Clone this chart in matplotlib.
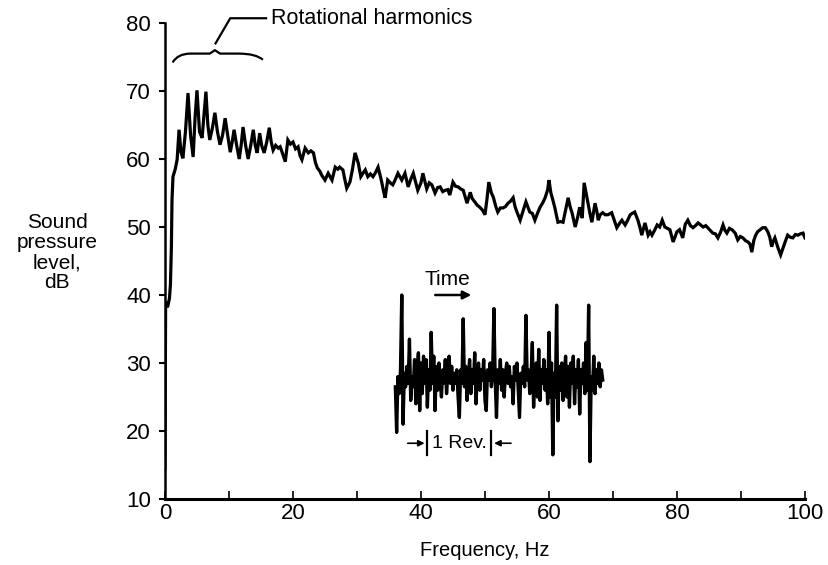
import matplotlib

matplotlib.use('Agg')
import numpy as np
import matplotlib.pyplot as plt
import matplotlib.ticker as ticker
from matplotlib.path import Path
from matplotlib.patches import PathPatch

plt.rcParams['font.family'] = ['Liberation Sans', 'DejaVu Sans']

# Noise spectrum
freq_hz = [
    0.0, 0.1, 0.4, 0.7, 0.85, 1.0, 1.1, 1.25, 1.6, 1.9, 2.2, 2.5, 2.8, 3.2, 3.6,
    4.0, 4.4, 4.7, 5.0, 5.4, 5.8, 6.1, 6.4, 6.7, 7.0, 7.4, 7.8, 8.2, 8.6, 9.0,
    9.4, 9.8, 10.2, 10.5, 10.8, 11.2, 11.6, 11.9, 12.2, 12.6, 13.0, 13.4, 13.8,
    14.1, 14.4, 14.8, 15.1, 15.5, 15.9, 16.3, 16.6, 16.9, 17.3, 17.7, 18.0, 18.3,
    18.8, 19.2, 19.6, 20.0, 20.4, 20.8, 21.1, 21.4, 21.9, 22.4, 22.8, 23.2, 23.5,
    23.8, 24.2, 24.5, 25.0, 25.5, 26.1, 26.6, 27.0, 27.3, 27.8, 28.1, 28.4, 28.9,
    29.3, 29.7, 30.2, 30.6, 31.0, 31.3, 31.7, 32.1, 32.5, 32.9, 33.3, 33.8, 34.1,
    34.4, 34.8, 35.2, 35.6, 36.0, 36.4, 37.0, 37.5, 38.0, 38.4, 38.8, 39.2, 39.5,
    40.0, 40.3, 40.9, 41.3, 41.7, 42.2, 42.6, 43.0, 43.4, 43.8, 44.2, 44.5, 45.0,
    45.4, 45.8, 46.2, 46.6, 47.2, 47.7, 48.0, 48.4, 48.8, 49.2, 49.6, 50.0, 50.3,
    50.6, 51.0, 51.3, 51.7, 52.0, 52.4, 52.8, 53.2, 53.6, 54.0, 54.4, 54.7, 55.0,
    55.5, 56.0, 56.4, 57.0, 57.4, 57.8, 58.2, 58.6, 59.0, 59.4, 59.8, 60.0, 60.3,
    60.6, 60.9, 61.4, 61.8, 62.2, 62.6, 63.0, 63.3, 63.6, 64.1, 64.5, 64.8, 65.2,
    65.5, 65.8, 66.1, 66.4, 66.7, 67.2, 67.5, 67.7, 68.0, 68.4, 68.8, 69.2, 69.8,
    70.2, 70.6, 71.0, 71.4, 71.9, 72.3, 72.7, 73.0, 73.4, 73.9, 74.2, 74.5, 75.0,
    75.5, 75.8, 76.1, 76.5, 76.9, 77.3, 77.7, 78.1, 78.5, 78.9, 79.4, 80.0, 80.4,
    80.9, 81.3, 81.7, 82.1, 82.5, 82.9, 83.3, 83.7, 84.1, 84.5, 84.8, 85.2, 85.6,
    86.0, 86.4, 86.8, 87.2, 87.5, 87.8, 88.2, 88.6, 89.1, 89.5, 89.9, 90.3, 90.7,
    91.1, 91.4, 91.7, 92.0, 92.3, 92.6, 93.0, 93.4, 93.8, 94.2, 94.5, 94.8, 95.0,
    95.3, 95.6, 95.8, 96.2, 96.6, 96.9, 97.3, 97.7, 98.1, 98.5, 98.9, 99.3, 99.7,
    100.0,
]
spl_db = [
    14.5, 39.0, 38.2, 39.5, 41.5, 47.0, 54.0, 57.4, 58.5, 59.9, 64.3, 61.0, 60.1,
    64.0, 69.7, 63.5, 60.3, 66.0, 70.1, 64.0, 63.1, 66.5, 69.9, 65.0, 62.8, 64.5,
    66.8, 64.0, 62.1, 63.5, 66.0, 63.5, 61.0, 62.5, 64.3, 62.0, 60.0, 62.0, 64.7,
    62.0, 60.0, 62.0, 64.3, 62.0, 60.9, 63.8, 62.0, 60.9, 62.5, 64.6, 62.5, 61.3,
    62.0, 61.6, 61.8, 61.0, 59.6, 62.8, 62.2, 62.5, 61.5, 61.8, 60.5, 59.9, 61.6,
    60.9, 61.2, 60.9, 59.5, 58.7, 58.2, 57.6, 56.9, 57.9, 56.9, 58.8, 58.5, 58.8,
    58.4, 57.0, 55.7, 56.6, 58.5, 60.9, 59.4, 57.4, 58.0, 58.4, 57.4, 57.8, 57.4,
    58.0, 58.8, 56.9, 55.5, 54.3, 56.9, 56.5, 56.2, 57.0, 57.9, 56.9, 57.9, 55.9,
    57.0, 57.9, 56.5, 55.4, 56.5, 57.9, 55.6, 56.5, 56.2, 55.0, 55.8, 55.9, 55.2,
    55.4, 55.5, 54.7, 56.6, 56.0, 55.9, 55.6, 55.4, 53.5, 55.1, 54.2, 53.7, 53.2,
    52.9, 52.5, 51.8, 54.0, 56.6, 55.0, 54.4, 53.0, 52.2, 52.8, 52.8, 53.0, 53.5,
    53.8, 54.3, 53.0, 52.2, 51.0, 52.5, 53.7, 52.2, 52.0, 51.0, 52.0, 52.9, 53.5,
    54.3, 55.5, 56.9, 55.0, 54.0, 52.9, 50.7, 50.8, 50.7, 52.5, 54.3, 53.0, 52.1,
    50.0, 51.5, 52.9, 51.3, 56.5, 55.0, 53.5, 52.0, 50.7, 53.5, 52.2, 51.0, 51.8,
    52.1, 51.8, 51.8, 52.1, 51.0, 49.9, 50.5, 51.0, 50.3, 51.0, 51.8, 52.0, 52.2,
    51.0, 50.0, 48.8, 50.6, 48.8, 49.3, 48.8, 49.5, 50.3, 50.0, 51.0, 50.0, 49.8,
    49.6, 47.8, 49.3, 49.6, 48.4, 50.4, 51.0, 50.2, 49.9, 50.2, 50.6, 50.3, 50.0,
    50.2, 49.9, 49.5, 49.1, 49.0, 48.4, 49.2, 50.3, 49.5, 49.1, 49.8, 49.6, 49.1,
    48.1, 48.6, 48.4, 48.0, 47.8, 47.5, 46.3, 48.0, 48.8, 49.3, 49.6, 49.9, 49.9,
    49.3, 48.5, 47.1, 47.8, 48.4, 47.5, 46.9, 45.9, 47.0, 47.8, 48.8, 48.5, 48.4,
    48.9, 48.8, 49.0, 49.1, 48.4,
]

# Time trace inset (one revolution marked), drawn in the same axes
wave_start = 36.0
wave_step = 0.2
wave_db = [
    26.5, 19.8, 28.0, 25.5, 29.0, 40.0, 21.0, 28.5, 26.5, 29.5, 27.0, 33.5, 24.5,
    28.0, 26.5, 30.5, 24.0, 29.0, 31.5, 23.0, 30.0, 25.5, 31.0, 27.0, 30.5, 23.5,
    29.0, 26.0, 34.5, 27.0, 31.0, 23.0, 29.5, 26.0, 30.0, 27.5, 25.0, 29.0, 27.0,
    30.5, 25.5, 28.5, 31.0, 27.0, 29.5, 26.0, 28.5, 27.0, 29.0, 25.0, 22.0, 29.0,
    27.0, 36.5, 26.5, 29.5, 24.5, 28.0, 30.5, 25.5, 29.0, 27.0, 31.5, 24.0, 28.5,
    30.0, 26.0, 29.0, 27.5, 30.5, 24.5, 23.0, 29.0, 27.5, 30.0, 26.5, 28.5, 38.0,
    27.5, 22.0, 29.0, 27.0, 30.5, 26.0, 29.0, 25.0, 28.5, 30.0, 27.0, 29.5, 26.5,
    28.0, 24.0, 29.5, 27.5, 30.0, 26.0, 22.0, 28.5, 27.0, 29.5, 26.5, 37.0, 27.5,
    29.0, 25.5, 28.0, 33.0, 23.5, 28.5, 30.0, 25.0, 32.0, 24.5, 29.0, 27.0, 30.5,
    26.0, 29.0, 24.0, 34.5, 25.0, 30.0, 16.5, 28.5, 25.0, 38.5, 21.5, 29.5, 26.0,
    30.0, 24.5, 28.5, 31.0, 25.0, 29.5, 23.5, 30.0, 27.0, 31.0, 24.0, 29.0, 26.5,
    30.5, 22.5, 29.0, 27.0, 30.0, 25.5, 33.0, 26.0, 38.5, 15.5, 28.0, 26.0, 31.0,
    25.5, 29.0, 27.0, 30.0, 26.5, 29.0, 27.5,
]
wave_t = wave_start + wave_step * np.arange(len(wave_db))

fig = plt.figure(figsize=(8.29, 5.65), dpi=100)
ax = fig.add_axes([0.199, 0.1168, 0.772, 0.8425])

ax.plot(freq_hz, spl_db, color='black', linewidth=2.3, solid_joinstyle='miter')
ax.plot(wave_t, wave_db, color='black', linewidth=2.4)

ax.set_xlim(0, 100)
ax.set_ylim(10, 80)
ax.spines['top'].set_visible(False)
ax.spines['right'].set_visible(False)
ax.spines['left'].set_linewidth(1.8)
ax.spines['bottom'].set_linewidth(2.2)

ax.xaxis.set_major_locator(ticker.MultipleLocator(20))
ax.xaxis.set_minor_locator(ticker.MultipleLocator(10))
ax.yaxis.set_major_locator(ticker.MultipleLocator(10))
ax.tick_params(axis='x', which='both', direction='in', length=6, width=1.2,
               pad=3, labelsize=16)
ax.tick_params(axis='y', which='major', direction='out', length=4, width=1.5,
               pad=6, labelsize=16)

ax.set_xlabel('Frequency, Hz', fontsize=14.5, labelpad=12)
fig.text(0.069, 0.553, 'Sound\npressure\nlevel,\ndB', ha='center', va='center',
         fontsize=15, linespacing=1.08)

# Brace over the rotational harmonics, with a leader to the label
brace = Path(
    [(1.2, 74.2), (2.0, 75.5), (4.0, 75.5), (7.0, 75.5), (7.8, 76.0),
     (8.6, 75.5), (11.5, 75.5), (14.2, 75.5), (15.3, 74.6)],
    [Path.MOVETO, Path.CURVE3, Path.CURVE3, Path.LINETO, Path.LINETO,
     Path.LINETO, Path.LINETO, Path.CURVE3, Path.CURVE3])
ax.add_patch(PathPatch(brace, fill=False, linewidth=1.6, edgecolor='black',
                       clip_on=False))
ax.plot([7.9, 10.2, 15.8], [77.0, 80.7, 80.7], color='black', linewidth=1.6,
        clip_on=False)
ax.text(16.6, 80.7, 'Rotational harmonics', fontsize=15.5, ha='left',
        va='center', clip_on=False)

# Labels of the time trace
ax.text(44.2, 42.3, 'Time', fontsize=15, ha='center', va='center')
ax.annotate('', xy=(48.3, 40.0), xytext=(41.8, 40.0),
            arrowprops=dict(arrowstyle='-|>', color='black', linewidth=1.8,
                            mutation_scale=12))
ax.plot([41.0, 41.0], [16.5, 20.0], color='black', linewidth=1.6)
ax.plot([51.0, 51.0], [16.5, 20.0], color='black', linewidth=1.6)
ax.annotate('', xy=(41.0, 18.2), xytext=(37.5, 18.2),
            arrowprops=dict(arrowstyle='-|>', color='black', linewidth=1.2,
                            mutation_scale=9))
ax.annotate('', xy=(51.0, 18.2), xytext=(54.5, 18.2),
            arrowprops=dict(arrowstyle='-|>', color='black', linewidth=1.2,
                            mutation_scale=9))
ax.text(46.0, 18.2, '1 Rev.', fontsize=14, ha='center', va='center')

fig.savefig('out.png', dpi=100)
